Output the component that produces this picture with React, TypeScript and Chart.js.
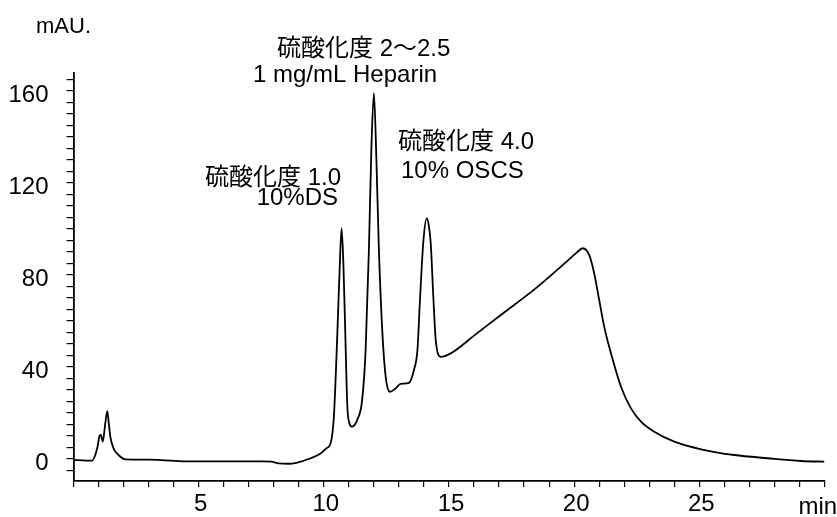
import React, { useEffect, useRef } from "react";
import { Chart, registerables } from "chart.js";

Chart.register(...registerables);

// Retention time (min)
const times = [
  0, 0.5, 0.75, 0.87, 0.96, 1.04, 1.09, 1.17, 1.27, 1.35, 1.41, 1.47, 1.6, 1.8, 2.07,
  3.0, 3.5, 4.5, 6, 7.5, 7.9, 8.2, 8.6, 8.9, 9.07, 9.5, 9.87, 10.1, 10.27, 10.4, 10.54,
  10.63, 10.71, 10.78, 10.84, 10.94, 11.02, 11.11, 11.33, 11.53, 11.67, 11.8, 11.9, 12.0,
  12.1, 12.2, 12.34, 12.47, 12.64, 12.87, 13.07, 13.4, 13.6, 13.74, 13.84, 13.98, 14.11,
  14.2, 14.27, 14.38, 14.47, 14.67, 15.07, 16.0, 17.07, 18.4, 19.73, 20.1, 20.34, 20.6,
  20.8, 21.0, 21.2, 21.47, 21.87, 22.27, 22.67, 23.2, 24.0, 25.07, 26.4, 27.73, 29.07, 30.0,
];

// Absorbance (mAU)
const absorbance = [
  -0.5, -0.8, -0.8, 1.6, 5.2, 9.9, 10.3, 7.4, 15.4, 20.7, 15.4, 9.6, 4.5, 1.6, -0.3,
  -0.4, -0.6, -1.2, -1.2, -1.2, -1.3, -2.0, -2.2, -1.8, -1.3, 0.3, 2.3, 4.5, 6.7, 18, 54.5,
  82, 100.2, 85, 61.7, 22.6, 15.5, 13.9, 16.8, 25.5, 47.3, 90.7, 135, 158.9,
  130, 90.7, 54.5, 35.7, 29.1, 30.6, 32.5, 33, 38.6, 47.3, 69, 95.1, 104.5,
  101, 93.7, 69, 51.6, 44.3, 45.8, 53.5, 62.5, 73.5, 86, 89.6, 91.5, 88.6,
  80.6, 69, 57.4, 45.8, 31.3, 21.9, 16.1, 11.7, 7.4, 4.1, 1.6, 0.2, -1, -1.3,
];

// Axis settings
const xMin = 0;
const xMax = 30;
const xLabelTicks = [5, 10, 15, 20, 25];
const xUnitLabel = "min";
const yMin = -9.7;
const yMax = 167.7;
const yLabelTicks = [0, 40, 80, 120, 160];
const yUnitLabel = "mAU.";

// Peak annotations (text lines)
const annotations = [
  { text: "硫酸化度 2～2.5", x: 277, y: 56, align: "left" },
  { text: "1 mg/mL Heparin", x: 253, y: 81.5, align: "left" },
  { text: "硫酸化度 1.0", x: 205, y: 185, align: "left" },
  { text: "10%DS", x: 338, y: 205, align: "right" },
  { text: "硫酸化度 4.0", x: 398, y: 149, align: "left" },
  { text: "10% OSCS", x: 401, y: 178, align: "left" },
];

const FONT_FAMILY = '"Liberation Sans", Arial, "Noto Sans CJK JP", sans-serif';

export default function App() {
  const canvasRef = useRef<HTMLCanvasElement | null>(null);

  useEffect(() => {
    const canvas = canvasRef.current;
    if (!canvas) return;

    const textPlugin = {
      id: "textPlugin",
      afterDraw(chart: any) {
        const ctx = chart.ctx;
        ctx.save();
        ctx.fillStyle = "#000";
        ctx.textBaseline = "alphabetic";
        ctx.font = `24px ${FONT_FAMILY}`;
        for (const a of annotations) {
          ctx.textAlign = a.align;
          ctx.fillText(a.text, a.x, a.y);
        }
        ctx.textAlign = "left";
        ctx.fillText(xUnitLabel, 798.5, 514);
        ctx.font = `22px ${FONT_FAMILY}`;
        ctx.fillText(yUnitLabel, 36, 33);
        ctx.restore();
      },
    };

    const chart = new Chart(canvas, {
      type: "line",
      data: {
        datasets: [
          {
            data: times.map((t, i) => ({ x: t, y: absorbance[i] })),
            borderColor: "#000",
            borderWidth: 1.8,
            pointRadius: 0,
            fill: false,
            cubicInterpolationMode: "monotone",
          },
        ],
      },
      options: {
        responsive: false,
        animation: false,
        events: [],
        layout: { padding: { top: 73, right: 12.5, bottom: 0, left: 0 } },
        plugins: {
          legend: { display: false },
          tooltip: { enabled: false },
        },
        scales: {
          x: {
            type: "linear",
            min: xMin,
            max: xMax,
            afterFit(scale: any) {
              scale.height = 36;
            },
            border: { display: true, color: "#000", width: 1.8 },
            grid: {
              display: true,
              drawOnChartArea: false,
              drawTicks: true,
              tickLength: 6,
              color: "#000",
              lineWidth: 1.2,
            },
            ticks: {
              stepSize: 1,
              autoSkip: false,
              maxRotation: 0,
              includeBounds: false,
              padding: 3,
              labelOffset: 2,
              color: "#000",
              font: { family: FONT_FAMILY, size: 24 },
              callback: (v: any) => (xLabelTicks.includes(Number(v)) ? String(v) : ""),
            },
          },
          y: {
            type: "linear",
            min: yMin,
            max: yMax,
            afterFit(scale: any) {
              scale.width = 73.5;
            },
            border: { display: true, color: "#000", width: 1.8 },
            grid: {
              display: true,
              drawOnChartArea: false,
              drawTicks: true,
              tickLength: 7,
              color: "#000",
              lineWidth: 1.2,
            },
            ticks: {
              stepSize: 5,
              autoSkip: false,
              includeBounds: false,
              padding: 18,
              labelOffset: 4.5,
              color: "#000",
              font: { family: FONT_FAMILY, size: 24 },
              callback: (v: any) => (yLabelTicks.includes(Number(v)) ? String(v) : ""),
            },
          },
        },
      },
      plugins: [textPlugin],
    } as any);

    return () => chart.destroy();
  }, []);

  return (
    <div style={{ position: "absolute", left: 0, top: 0, width: 837, height: 517, background: "#fff" }}>
      <canvas ref={canvasRef} width={837} height={517} style={{ display: "block" }} />
    </div>
  );
}
